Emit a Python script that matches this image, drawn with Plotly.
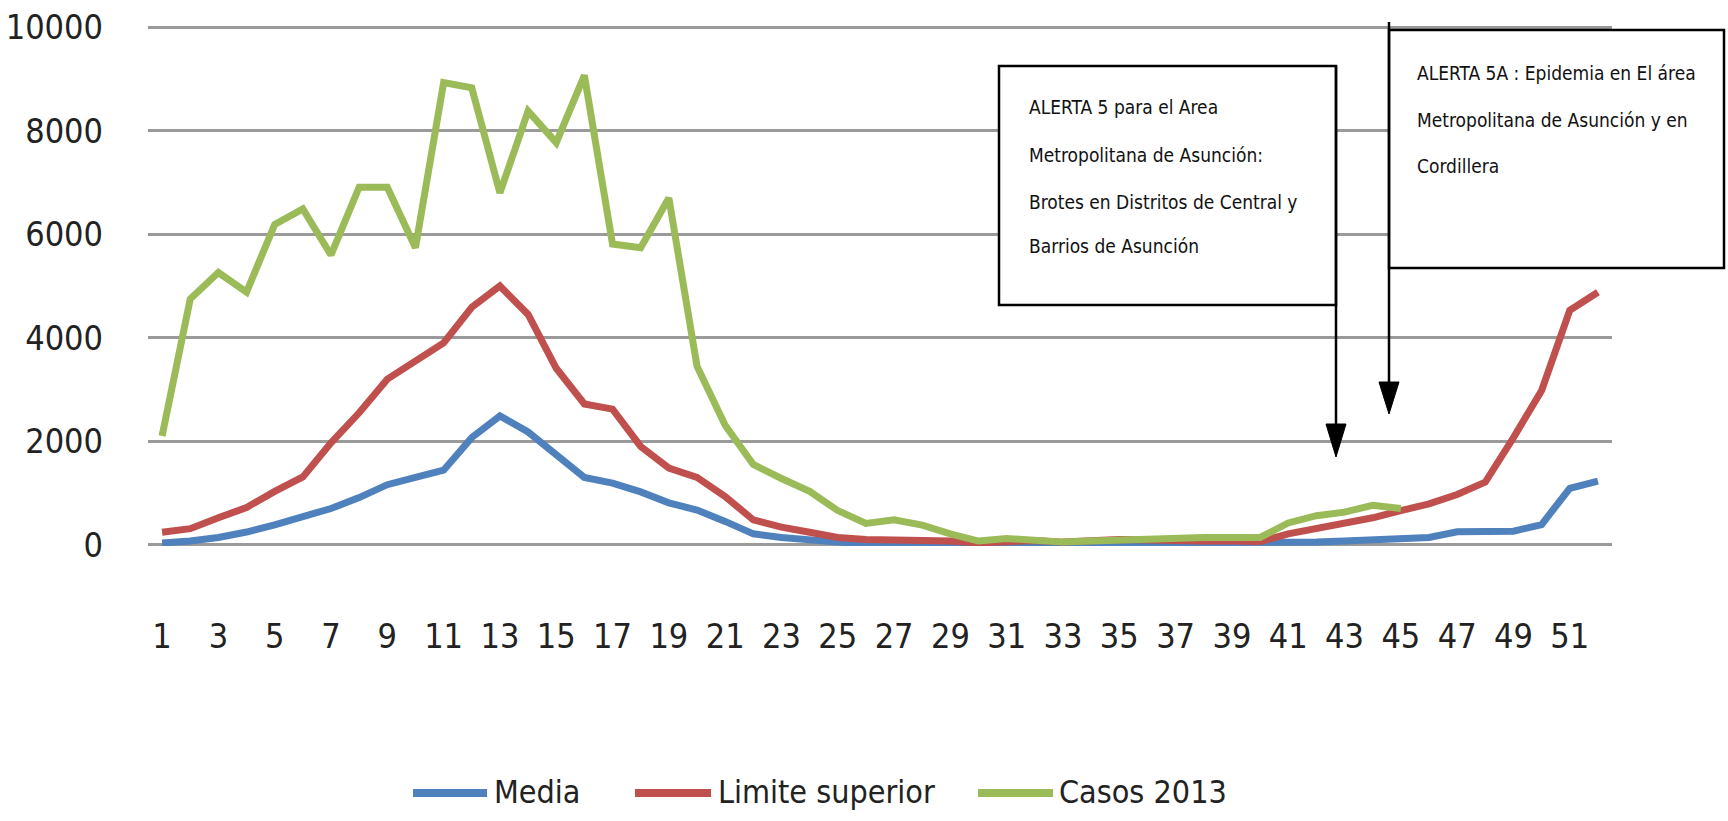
import plotly.graph_objects as go

weeks = list(range(1, 53))
media = [35, 70, 140, 245, 385, 525, 700, 910, 1160, 1300, 1440, 2070, 2490, 2180, 1720, 1300, 1190, 1020, 810, 670,
         450, 210, 140, 80, 50, 30, 20, 20, 20, 20, 20, 20, 20, 20, 20, 20, 20, 20, 20, 20,
         35, 50, 70, 90, 120, 140, 250, 260, 260, 390, 1090, 1230]
limite = [240, 310, 520, 720, 1030, 1310, 1970, 2550, 3200, 3550, 3900, 4590, 5000, 4450, 3410, 2720, 2620, 1900, 1480, 1300,
          930, 480, 340, 240, 140, 100, 100, 90, 70, 35, 60, 80, 50, 90, 100, 90, 70, 70, 70, 60,
          210, 310, 390, 520, 660, 790, 970, 1210, 2070, 2980, 4530, 4880]
casos = [2100, 4750, 5260, 4880, 6190, 6490, 5600, 6910, 6910, 5740, 8930, 8830, 6800, 8380, 7770, 9070, 5810, 5740, 6700,
         3450, 2310, 1550, 1280, 1030, 660, 410, 480, 380, 210, 70, 120, 90, 50, 70, 90, 120, 140, 140, 140, 140,
         420, 560, 630, 760, 700]
weeks_casos = weeks[:len(casos)]

series_names = ["Media", "Limite superior", "Casos 2013"]
series_colors = ["#4F81BD", "#C0504D", "#9BBB59"]

x_ticks = list(range(1, 52, 2))
y_ticks = [0, 2000, 4000, 6000, 8000, 10000]

box1_lines = ["ALERTA 5 para el Area", "Metropolitana de Asunción:",
              "Brotes en Distritos de Central y", "Barrios de Asunción"]
box2_lines = ["ALERTA 5A : Epidemia en El área", "Metropolitana de Asunción y en", "Cordillera"]

FONT = "Liberation Sans Narrow, DejaVu Sans Condensed, Arial Narrow, sans-serif"

FW, FH = 1728, 821
PL, PR, PT, PB = 148, 1612, 26, 546
W, H = PR - PL, PB - PT


def px(X):
    return (X - PL) / W


def py(Y):
    return (PB - Y) / H


fig = go.Figure()
for name, xs, ys, col in zip(series_names, [weeks, weeks, weeks_casos], [media, limite, casos], series_colors):
    fig.add_trace(go.Scatter(x=xs, y=ys, mode="lines", name=name, showlegend=False,
                             line=dict(color=col, width=7)))

shapes = []
annotations = []
# Box 1
shapes.append(dict(type="rect", xref="paper", yref="paper", x0=px(999), x1=px(1336), y0=py(305), y1=py(66),
                   line=dict(color="black", width=2.5), fillcolor="white", layer="above"))
shapes.append(dict(type="line", xref="paper", yref="paper", x0=px(1336), x1=px(1336), y0=py(66), y1=py(440),
                   line=dict(color="black", width=2.5), layer="above"))
shapes.append(dict(type="path", xref="paper", yref="paper",
                   path=f"M {px(1326)},{py(424)} L {px(1346)},{py(424)} L {px(1336)},{py(457)} Z",
                   fillcolor="black", line=dict(color="black", width=1), layer="above"))
# Box 2
shapes.append(dict(type="rect", xref="paper", yref="paper", x0=px(1389), x1=px(1724), y0=py(268), y1=py(30),
                   line=dict(color="black", width=2.5), fillcolor="white", layer="above"))
shapes.append(dict(type="line", xref="paper", yref="paper", x0=px(1389), x1=px(1389), y0=py(22), y1=py(398),
                   line=dict(color="black", width=2.5), layer="above"))
shapes.append(dict(type="path", xref="paper", yref="paper",
                   path=f"M {px(1379)},{py(382)} L {px(1399)},{py(382)} L {px(1389)},{py(414)} Z",
                   fillcolor="black", line=dict(color="black", width=1), layer="above"))

for txt, yy in zip(box1_lines, [107, 155, 202, 246]):
    annotations.append(dict(text=txt, xref="paper", yref="paper", x=px(1027), y=py(yy), xanchor="left",
                            yanchor="middle", showarrow=False, font=dict(family=FONT, size=19, color="#111")))
for txt, yy in zip(box2_lines, [73, 120, 166]):
    annotations.append(dict(text=txt, xref="paper", yref="paper", x=px(1415), y=py(yy), xanchor="left",
                            yanchor="middle", showarrow=False, font=dict(family=FONT, size=19, color="#111")))

# legend (drawn as line samples + labels)
legend_sym_x = [(413, 487), (635, 711), (978, 1053)]
legend_txt_x = [492, 716, 1057]
LEG_Y = 793
for name, col, (a, b), tx in zip(series_names, series_colors, legend_sym_x, legend_txt_x):
    shapes.append(dict(type="line", xref="paper", yref="paper", x0=px(a), x1=px(b), y0=py(LEG_Y), y1=py(LEG_Y),
                       line=dict(color=col, width=8)))
    annotations.append(dict(text=name, xref="paper", yref="paper", x=px(tx), y=py(LEG_Y - 1), xanchor="left",
                            yanchor="middle", showarrow=False, font=dict(family=FONT, size=32, color="#222")))

fig.update_layout(
    width=FW, height=FH,
    margin=dict(l=PL, r=FW - PR, t=PT, b=FH - PB, autoexpand=False),
    paper_bgcolor="white", plot_bgcolor="white",
    showlegend=False,
    shapes=shapes, annotations=annotations,
    xaxis=dict(range=[0.5, 52.5], tickvals=x_ticks, ticktext=[str(v) for v in x_ticks],
               showgrid=False, zeroline=False, showline=False, ticks="", automargin=False,
               ticklabelstandoff=67, ticklabeloverflow="allow",
               tickfont=dict(family=FONT, size=34, color="#222")),
    yaxis=dict(range=[-25, 10025], tickvals=y_ticks, ticktext=[str(v) for v in y_ticks],
               showgrid=True, gridcolor="#9a9a9a", gridwidth=2.5, zeroline=False, showline=False, ticks="",
               automargin=False, ticklabelstandoff=44, ticklabeloverflow="allow",
               tickfont=dict(family=FONT, size=34, color="#222")),
)

fig.write_html("out.html", config={"displayModeBar": False},
               post_script="document.body.style.margin='0';document.body.style.overflow='hidden';")
